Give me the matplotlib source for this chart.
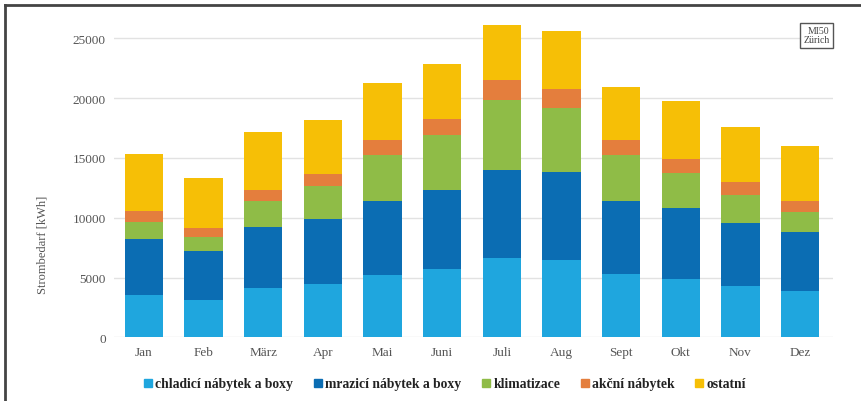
import matplotlib
matplotlib.use("Agg")
import matplotlib.pyplot as plt
from matplotlib.lines import Line2D
import numpy as np

months = ["Jan", "Feb", "März", "Apr", "Mai", "Juni", "Juli", "Aug", "Sept", "Okt", "Nov", "Dez"]
series_names = ["chladicí nábytek a boxy", "mrazicí nábytek a boxy", "klimatizace", "akční nábytek", "ostatní"]
chladici = [3570, 3150, 4100, 4440, 5220, 5720, 6610, 6500, 5300, 4880, 4330, 3850]
mrazici = [4660, 4050, 5110, 5440, 6220, 6610, 7400, 7310, 6140, 5920, 5210, 4940]
klimatizace = [1450, 1170, 2230, 2760, 3820, 4550, 5800, 5390, 3770, 2930, 2400, 1730]
akcni = [870, 780, 890, 1000, 1230, 1340, 1730, 1590, 1310, 1200, 1030, 920]
ostatni = [4800, 4210, 4830, 4500, 4800, 4660, 4600, 4820, 4410, 4800, 4610, 4600]
yticks = [0, 5000, 10000, 15000, 20000, 25000]
colors = ["#1fa6de", "#0b6db3", "#8fbc47", "#e47e3d", "#f6bf06"]

fig = plt.figure(figsize=(8.62, 4.02), dpi=100)
ax = fig.add_axes([0.1323, 0.158, 0.834, 0.789])

x = np.arange(len(months))
bottom = np.zeros(len(months))
handles = []
for name, vals, c in zip(series_names, [chladici, mrazici, klimatizace, akcni, ostatni], colors):
    ax.bar(x, vals, width=0.64, bottom=bottom, color=c, zorder=3, linewidth=0)
    bottom += np.array(vals)
    handles.append(Line2D([], [], marker="s", linestyle="none", markersize=5.5,
                          markerfacecolor=c, markeredgecolor=c, label=name))

ax.set_xlim(-0.5, 11.55)
ax.set_ylim(0, 26500)
ax.set_yticks(yticks)
ax.set_yticklabels([str(v) for v in yticks])
ax.set_xticks(x)
ax.set_xticklabels(months)
for s in ax.spines.values():
    s.set_visible(False)
ax.tick_params(length=0, colors="#555555", labelsize=9.5, pad=6)
for lab in ax.get_xticklabels() + ax.get_yticklabels():
    lab.set_family("Liberation Serif")
ax.grid(axis="y", color="#e2e2e2", linewidth=1, zorder=0)
ax.set_axisbelow(True)

fig.text(43 / 862, 1 - 245 / 402, "Strombedarf [kWh]", rotation=90, ha="center", va="center",
         family="Liberation Serif", fontsize=9, color="#555555")

ax.text(0.995, 0.982, "MI50\nZürich", transform=ax.transAxes, ha="right", va="top",
        family="Liberation Serif", fontsize=7, color="#444444", linespacing=1.05,
        bbox=dict(boxstyle="square,pad=0.35", facecolor="white", edgecolor="#555555", linewidth=1))

leg = fig.legend(handles=handles, loc="center", bbox_to_anchor=(445 / 862, 1 - 385 / 402), ncol=5,
                 frameon=False, handlelength=0.6, handletextpad=0.25, columnspacing=1.5,
                 prop={"family": "Liberation Serif", "weight": "bold", "size": 9.8})
for t in leg.get_texts():
    t.set_color("#222222")

# partial frame (top and left)
fig.add_artist(Line2D([5 / 862, 5 / 862], [0, 1 - 6 / 402], transform=fig.transFigure, color="#444444", linewidth=2))
fig.add_artist(Line2D([5 / 862, 1], [1 - 6 / 402, 1 - 6 / 402], transform=fig.transFigure, color="#444444", linewidth=2))

fig.savefig("out.png", dpi=100)
